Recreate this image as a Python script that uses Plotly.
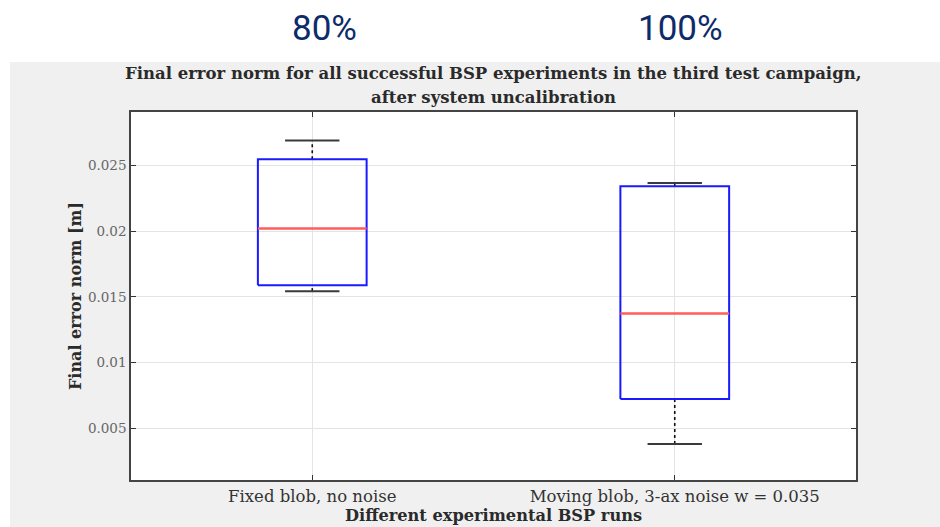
import plotly.graph_objects as go

# Box statistics per experimental run (final error norm, metres)
runs = ["Fixed blob, no noise", "Moving blob, 3-ax noise w = 0.035"]
positions = [1, 2]
lower_whisker = [0.01543, 0.00380]
q1 = [0.01588, 0.00722]
median = [0.02019, 0.01373]
q3 = [0.02546, 0.02340]
upper_whisker = [0.02688, 0.02366]
success_rate = ["80%", "100%"]

y_ticks = [0.005, 0.01, 0.015, 0.02, 0.025]
y_tick_text = ["0.005", "0.01", "0.015", "0.02", "0.025"]

BOX_HALF = 0.15
CAP_HALF = 0.075

W, H = 940, 527
ML, MR, MT, MB = 131, 84, 112, 47
PW, PH = W - ML - MR, H - MT - MB


def px_x(p):
    return (p - ML) / PW


def px_y(p):
    return (H - MB - p) / PH


fig = go.Figure()

for pos, lw, a, m, b, uw in zip(positions, lower_whisker, q1, median, q3, upper_whisker):
    # dashed whiskers
    fig.add_trace(go.Scatter(x=[pos, pos], y=[b, uw], mode="lines",
                             line=dict(color="#111111", width=1.6, dash="dot"),
                             showlegend=False, hoverinfo="skip"))
    fig.add_trace(go.Scatter(x=[pos, pos], y=[lw, a], mode="lines",
                             line=dict(color="#111111", width=1.6, dash="dot"),
                             showlegend=False, hoverinfo="skip"))
    # whisker caps
    for v in (lw, uw):
        fig.add_trace(go.Scatter(x=[pos - CAP_HALF, pos + CAP_HALF], y=[v, v], mode="lines",
                                 line=dict(color="#3a3a3a", width=2),
                                 showlegend=False, hoverinfo="skip"))
    # box
    fig.add_trace(go.Scatter(x=[pos - BOX_HALF, pos + BOX_HALF, pos + BOX_HALF, pos - BOX_HALF, pos - BOX_HALF],
                             y=[a, a, b, b, a], mode="lines",
                             line=dict(color="#1a1aff", width=2),
                             showlegend=False, hoverinfo="skip"))
    # median
    fig.add_trace(go.Scatter(x=[pos - BOX_HALF, pos + BOX_HALF], y=[m, m], mode="lines",
                             line=dict(color="#ff5c5c", width=2.5),
                             showlegend=False, hoverinfo="skip"))

# white strips outside the grey figure panel
fig.add_shape(type="rect", xref="paper", yref="paper",
              x0=px_x(0), x1=px_x(W), y0=px_y(62), y1=px_y(0),
              fillcolor="white", line=dict(width=0), layer="below")
fig.add_shape(type="rect", xref="paper", yref="paper",
              x0=px_x(0), x1=px_x(10), y0=px_y(H), y1=px_y(0),
              fillcolor="white", line=dict(width=0), layer="below")

# success-rate headers
for label, cx in zip(success_rate, [324, 680]):
    fig.add_annotation(text=label, xref="paper", yref="paper",
                       x=px_x(cx), y=px_y(28), showarrow=False,
                       xanchor="center", yanchor="middle",
                       font=dict(family="Liberation Sans Narrow, Arial Narrow, Roboto", size=35,
                                 color="#0d2b6b"))

serif = "DejaVu Serif"

fig.add_annotation(text="<b>Final error norm for all successful BSP experiments in the third test campaign,</b>",
                   xref="paper", yref="paper", x=px_x(493), y=px_y(73), showarrow=False,
                   xanchor="center", yanchor="middle",
                   font=dict(family=serif, size=16.5, color="#2a2a2a"))
fig.add_annotation(text="<b>after system uncalibration</b>",
                   xref="paper", yref="paper", x=px_x(493), y=px_y(97), showarrow=False,
                   xanchor="center", yanchor="middle",
                   font=dict(family=serif, size=16.5, color="#2a2a2a"))

fig.add_annotation(text="<b>Different experimental BSP runs</b>",
                   xref="paper", yref="paper", x=0.5, y=px_y(515), showarrow=False,
                   xanchor="center", yanchor="middle",
                   font=dict(family=serif, size=16.2, color="#2a2a2a"))
fig.add_annotation(text="<b>Final error norm [m]</b>",
                   xref="paper", yref="paper", x=px_x(75), y=px_y(296), showarrow=False,
                   xanchor="center", yanchor="middle", textangle=-90,
                   font=dict(family=serif, size=16, color="#2a2a2a"))

axis_common = dict(showline=True, linecolor="#444444", linewidth=1.5, mirror="ticks",
                   ticks="inside", ticklen=5, tickcolor="#333333", tickwidth=1.3,
                   showgrid=True, gridcolor="#e4e4e4", gridwidth=1, zeroline=False)

fig.update_xaxes(range=[0.5, 2.5], tickmode="array", tickvals=positions, ticktext=runs,
                 tickfont=dict(family=serif, size=16.5, color="#333333"), **axis_common)
fig.update_yaxes(range=[0.00107, 0.02905], tickmode="array", tickvals=y_ticks, ticktext=y_tick_text,
                 tickfont=dict(family=serif, size=13.5, color="#666666"), **axis_common)

fig.update_layout(width=W, height=H, margin=dict(l=ML, r=MR, t=MT, b=MB),
                  paper_bgcolor="#f0f0f0", plot_bgcolor="white", showlegend=False)

fig.write_html("out.html")
